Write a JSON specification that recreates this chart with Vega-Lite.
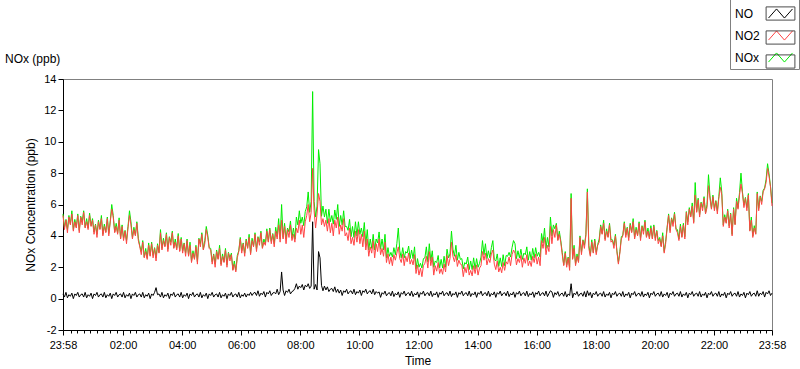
{
"$schema":"https://vega.github.io/schema/vega-lite/v6.json",
"width":709,"height":251,
"autosize":{"type":"none"},
"padding":{"left":63,"top":79,"right":28,"bottom":39},
"background":"white",
"config":{
 "font":"Liberation Sans",
 "view":{"stroke":"#808080","strokeWidth":1},
 "axis":{"labelFont":"Liberation Sans","labelFontSize":11,"labelColor":"#000","titleFont":"Liberation Sans","titleFontSize":12,"titleFontWeight":"normal","titleColor":"#000","domainColor":"#000","tickColor":"#000","grid":false}
},
"title":{"text":"NOx (ppb)","anchor":"start","frame":"group","dx":-58,"dy":78,"offset":0,"baseline":"alphabetic","fontSize":12,"fontWeight":"normal","font":"Liberation Sans","color":"#000"},
"data":{"values":[
{"m":0,"no":0.3,"no2":5.3,"nox":5.4},{"m":3,"no":0.1,"no2":4.4,"nox":4.55},{"m":6,"no":0.4,"no2":5.0,"nox":5.05},{"m":9,"no":0.05,"no2":4.2,"nox":4.4},{"m":12,"no":0.25,"no2":5.2,"nox":5.3},{"m":15,"no":0.15,"no2":4.7,"nox":4.75},{"m":18,"no":0.35,"no2":5.4,"nox":5.6},{"m":21,"no":0.0,"no2":4.3,"nox":4.4},{"m":24,"no":0.3,"no2":4.9,"nox":5.05},{"m":27,"no":0.2,"no2":4.5,"nox":4.55},
{"m":30,"no":0.4,"no2":5.3,"nox":5.4},{"m":33,"no":0.1,"no2":4.2,"nox":4.35},{"m":36,"no":0.25,"no2":5.2,"nox":5.25},{"m":39,"no":0.3,"no2":4.7,"nox":4.9},{"m":42,"no":0.1,"no2":5.5,"nox":5.6},{"m":45,"no":0.4,"no2":4.5,"nox":4.55},{"m":48,"no":0.05,"no2":4.9,"nox":5.1},{"m":51,"no":0.25,"no2":4.4,"nox":4.5},{"m":54,"no":0.15,"no2":5.3,"nox":5.45},{"m":57,"no":0.35,"no2":4.6,"nox":4.65},
{"m":60,"no":0.0,"no2":5.0,"nox":5.1},{"m":63,"no":0.3,"no2":4.1,"nox":4.25},{"m":66,"no":0.2,"no2":4.7,"nox":4.75},{"m":69,"no":0.4,"no2":3.9,"nox":4.1},{"m":72,"no":0.1,"no2":4.9,"nox":5.0},{"m":75,"no":0.25,"no2":4.4,"nox":4.45},{"m":78,"no":0.3,"no2":5.1,"nox":5.3},{"m":81,"no":0.1,"no2":4.0,"nox":4.1},{"m":84,"no":0.4,"no2":4.6,"nox":4.75},{"m":87,"no":0.05,"no2":4.2,"nox":4.25},
{"m":90,"no":0.25,"no2":5.1,"nox":5.2},{"m":93,"no":0.15,"no2":4.0,"nox":4.15},{"m":96,"no":0.35,"no2":4.9,"nox":4.95},{"m":99,"no":0.0,"no2":5.7,"nox":6.0},{"m":102,"no":0.3,"no2":5.2,"nox":5.3},{"m":105,"no":0.2,"no2":4.2,"nox":4.25},{"m":108,"no":0.4,"no2":4.6,"nox":4.8},{"m":111,"no":0.1,"no2":4.1,"nox":4.2},{"m":114,"no":0.25,"no2":5.0,"nox":5.15},{"m":117,"no":0.3,"no2":3.8,"nox":3.85},
{"m":120,"no":0.1,"no2":4.6,"nox":4.7},{"m":123,"no":0.4,"no2":3.7,"nox":3.85},{"m":126,"no":0.05,"no2":4.3,"nox":4.35},{"m":129,"no":0.25,"no2":3.5,"nox":3.7},{"m":132,"no":0.15,"no2":4.5,"nox":4.6},{"m":135,"no":0.35,"no2":5.3,"nox":5.6},{"m":138,"no":0.0,"no2":4.7,"nox":4.9},{"m":141,"no":0.3,"no2":3.8,"nox":3.9},{"m":144,"no":0.2,"no2":4.4,"nox":4.55},{"m":147,"no":0.4,"no2":4.0,"nox":4.05},
{"m":150,"no":0.1,"no2":4.8,"nox":4.9},{"m":153,"no":0.25,"no2":3.7,"nox":3.85},{"m":156,"no":0.3,"no2":3.3,"nox":3.35},{"m":159,"no":0.1,"no2":2.8,"nox":3.0},{"m":162,"no":0.4,"no2":3.6,"nox":3.7},{"m":165,"no":0.05,"no2":2.6,"nox":2.65},{"m":168,"no":0.25,"no2":3.0,"nox":3.2},{"m":171,"no":0.15,"no2":2.5,"nox":2.6},{"m":174,"no":0.35,"no2":3.4,"nox":3.55},{"m":177,"no":0.0,"no2":2.7,"nox":2.75},
{"m":180,"no":0.3,"no2":3.5,"nox":3.6},{"m":183,"no":0.2,"no2":2.6,"nox":2.75},{"m":186,"no":0.4,"no2":3.2,"nox":3.25},{"m":189,"no":0.7,"no2":2.4,"nox":2.6},{"m":192,"no":0.25,"no2":3.4,"nox":3.5},{"m":195,"no":0.3,"no2":2.9,"nox":2.95},{"m":198,"no":0.1,"no2":4.2,"nox":4.4},{"m":201,"no":0.4,"no2":3.1,"nox":3.2},{"m":204,"no":0.05,"no2":3.7,"nox":3.85},{"m":207,"no":0.25,"no2":3.3,"nox":3.35},
{"m":210,"no":0.15,"no2":4.1,"nox":4.2},{"m":213,"no":0.35,"no2":3.0,"nox":3.15},{"m":216,"no":0.0,"no2":3.9,"nox":3.95},{"m":219,"no":0.3,"no2":3.4,"nox":3.6},{"m":222,"no":0.2,"no2":4.2,"nox":4.3},{"m":225,"no":0.4,"no2":3.2,"nox":3.25},{"m":228,"no":0.1,"no2":3.6,"nox":3.8},{"m":231,"no":0.25,"no2":3.1,"nox":3.2},{"m":234,"no":0.3,"no2":4.0,"nox":4.15},{"m":237,"no":0.1,"no2":3.0,"nox":3.05},
{"m":240,"no":0.4,"no2":3.8,"nox":3.9},{"m":243,"no":0.05,"no2":2.9,"nox":3.05},{"m":246,"no":0.25,"no2":3.5,"nox":3.55},{"m":249,"no":0.15,"no2":2.7,"nox":2.9},{"m":252,"no":0.35,"no2":3.7,"nox":3.8},{"m":255,"no":0.0,"no2":2.7,"nox":2.75},{"m":258,"no":0.3,"no2":3.4,"nox":3.6},{"m":261,"no":0.2,"no2":2.3,"nox":2.4},{"m":264,"no":0.4,"no2":2.9,"nox":3.05},{"m":267,"no":0.1,"no2":2.5,"nox":2.55},
{"m":270,"no":0.25,"no2":3.3,"nox":3.4},{"m":273,"no":0.3,"no2":2.2,"nox":2.35},{"m":276,"no":0.1,"no2":3.8,"nox":3.85},{"m":279,"no":0.4,"no2":3.3,"nox":3.5},{"m":282,"no":0.05,"no2":4.1,"nox":4.2},{"m":285,"no":0.25,"no2":3.1,"nox":3.15},{"m":288,"no":0.15,"no2":3.5,"nox":3.7},{"m":291,"no":0.35,"no2":4.4,"nox":4.6},{"m":294,"no":0.0,"no2":3.9,"nox":4.05},{"m":297,"no":0.3,"no2":3.2,"nox":3.25},
{"m":300,"no":0.2,"no2":3.1,"nox":3.2},{"m":303,"no":0.4,"no2":2.2,"nox":2.35},{"m":306,"no":0.1,"no2":2.8,"nox":2.85},{"m":309,"no":0.25,"no2":2.0,"nox":2.2},{"m":312,"no":0.3,"no2":3.0,"nox":3.1},{"m":315,"no":0.1,"no2":2.5,"nox":2.55},{"m":318,"no":0.4,"no2":3.2,"nox":3.4},{"m":321,"no":0.05,"no2":2.1,"nox":2.2},{"m":324,"no":0.25,"no2":2.7,"nox":2.85},{"m":327,"no":0.15,"no2":2.3,"nox":2.35},
{"m":330,"no":0.35,"no2":3.1,"nox":3.2},{"m":333,"no":0.0,"no2":2.0,"nox":2.15},{"m":336,"no":0.3,"no2":2.9,"nox":2.95},{"m":339,"no":0.2,"no2":2.4,"nox":2.6},{"m":342,"no":0.4,"no2":2.8,"nox":2.9},{"m":345,"no":0.1,"no2":1.8,"nox":1.85},{"m":348,"no":0.25,"no2":2.2,"nox":2.4},{"m":351,"no":0.3,"no2":1.7,"nox":1.8},{"m":354,"no":0.1,"no2":2.6,"nox":2.75},{"m":357,"no":0.4,"no2":3.0,"nox":3.05},
{"m":360,"no":0.05,"no2":3.8,"nox":3.9},{"m":363,"no":0.25,"no2":2.9,"nox":3.05},{"m":366,"no":0.15,"no2":3.5,"nox":3.55},{"m":369,"no":0.35,"no2":2.7,"nox":2.9},{"m":372,"no":0.1,"no2":3.7,"nox":3.8},{"m":375,"no":0.3,"no2":3.2,"nox":3.25},{"m":378,"no":0.2,"no2":3.9,"nox":4.1},{"m":381,"no":0.4,"no2":2.8,"nox":2.9},{"m":384,"no":0.2,"no2":3.7,"nox":3.85},{"m":387,"no":0.35,"no2":3.3,"nox":3.35},
{"m":390,"no":0.4,"no2":4.1,"nox":4.2},{"m":393,"no":0.2,"no2":3.0,"nox":3.15},{"m":396,"no":0.5,"no2":3.9,"nox":3.95},{"m":399,"no":0.15,"no2":3.4,"nox":3.6},{"m":402,"no":0.35,"no2":4.2,"nox":4.3},{"m":405,"no":0.25,"no2":3.2,"nox":3.25},{"m":408,"no":0.45,"no2":3.6,"nox":3.8},{"m":411,"no":0.1,"no2":3.4,"nox":3.5},{"m":414,"no":0.4,"no2":4.3,"nox":4.45},{"m":417,"no":0.3,"no2":3.6,"nox":3.65},
{"m":420,"no":0.5,"no2":4.4,"nox":4.5},{"m":423,"no":0.2,"no2":3.5,"nox":3.65},{"m":426,"no":0.35,"no2":4.1,"nox":4.15},{"m":429,"no":0.4,"no2":3.3,"nox":3.5},{"m":432,"no":0.3,"no2":4.3,"nox":4.55},{"m":435,"no":0.6,"no2":3.8,"nox":3.95},{"m":438,"no":0.25,"no2":4.7,"nox":5.1},{"m":441,"no":0.45,"no2":3.6,"nox":3.8},{"m":444,"no":1.7,"no2":5.0,"nox":6.0},{"m":447,"no":0.55,"no2":3.8,"nox":3.9},
{"m":450,"no":0.2,"no2":4.6,"nox":4.8},{"m":453,"no":0.5,"no2":3.5,"nox":3.8},{"m":456,"no":0.4,"no2":4.4,"nox":4.5},{"m":459,"no":0.6,"no2":3.9,"nox":4.25},{"m":462,"no":0.3,"no2":4.7,"nox":4.95},{"m":465,"no":0.45,"no2":3.7,"nox":3.85},{"m":468,"no":0.5,"no2":4.1,"nox":4.5},{"m":471,"no":0.65,"no2":3.6,"nox":3.8},{"m":474,"no":0.95,"no2":4.5,"nox":5.2},{"m":477,"no":0.6,"no2":4.2,"nox":4.7},
{"m":480,"no":0.8,"no2":5.0,"nox":5.6},{"m":483,"no":0.7,"no2":4.1,"nox":4.8},{"m":486,"no":0.9,"no2":4.7,"nox":5.2},{"m":489,"no":0.55,"no2":3.9,"nox":4.65},{"m":492,"no":0.85,"no2":4.9,"nox":5.55},{"m":495,"no":0.75,"no2":5.3,"nox":5.85},{"m":498,"no":0.95,"no2":6.0,"nox":6.8},{"m":501,"no":0.65,"no2":4.9,"nox":5.5},{"m":504,"no":0.8,"no2":5.5,"nox":6.2},{"m":507,"no":4.9,"no2":8.3,"nox":13.2},
{"m":510,"no":0.6,"no2":5.6,"nox":6.2},{"m":513,"no":0.9,"no2":4.5,"nox":5.2},{"m":516,"no":0.55,"no2":5.4,"nox":5.9},{"m":519,"no":3.0,"no2":6.7,"nox":9.5},{"m":522,"no":2.6,"no2":6.2,"nox":8.6},{"m":525,"no":0.85,"no2":4.7,"nox":5.25},{"m":528,"no":0.5,"no2":5.1,"nox":5.9},{"m":531,"no":0.8,"no2":4.6,"nox":5.2},{"m":534,"no":0.55,"no2":5.0,"nox":5.7},{"m":537,"no":0.75,"no2":4.3,"nox":4.8},
{"m":540,"no":0.45,"no2":5.1,"nox":5.7},{"m":543,"no":0.6,"no2":4.2,"nox":4.9},{"m":546,"no":0.65,"no2":4.8,"nox":5.3},{"m":549,"no":0.45,"no2":4.0,"nox":4.75},{"m":552,"no":0.75,"no2":5.0,"nox":5.65},{"m":555,"no":0.4,"no2":4.5,"nox":5.05},{"m":558,"no":0.6,"no2":5.2,"nox":6.0},{"m":561,"no":0.35,"no2":4.1,"nox":4.6},{"m":564,"no":0.55,"no2":4.7,"nox":5.3},{"m":567,"no":0.2,"no2":4.3,"nox":4.7},
{"m":570,"no":0.5,"no2":5.1,"nox":5.6},{"m":573,"no":0.4,"no2":4.0,"nox":4.6},{"m":576,"no":0.6,"no2":4.2,"nox":4.6},{"m":579,"no":0.3,"no2":3.7,"nox":4.35},{"m":582,"no":0.45,"no2":4.5,"nox":5.05},{"m":585,"no":0.5,"no2":3.5,"nox":3.95},{"m":588,"no":0.3,"no2":3.9,"nox":4.6},{"m":591,"no":0.6,"no2":3.4,"nox":3.9},{"m":594,"no":0.25,"no2":4.3,"nox":4.9},{"m":597,"no":0.45,"no2":3.6,"nox":4.0},
{"m":600,"no":0.35,"no2":4.4,"nox":4.9},{"m":603,"no":0.55,"no2":3.5,"nox":4.1},{"m":606,"no":0.2,"no2":4.1,"nox":4.5},{"m":609,"no":0.5,"no2":3.3,"nox":3.95},{"m":612,"no":0.4,"no2":4.3,"nox":4.85},{"m":615,"no":0.6,"no2":3.1,"nox":3.45},{"m":618,"no":0.3,"no2":3.8,"nox":4.4},{"m":621,"no":0.45,"no2":2.7,"nox":3.1},{"m":624,"no":0.5,"no2":3.3,"nox":3.8},{"m":627,"no":0.3,"no2":2.9,"nox":3.2},
{"m":630,"no":0.6,"no2":3.7,"nox":4.1},{"m":633,"no":0.25,"no2":2.6,"nox":3.1},{"m":636,"no":0.45,"no2":3.5,"nox":3.8},{"m":639,"no":0.35,"no2":3.0,"nox":3.55},{"m":642,"no":0.43,"no2":3.8,"nox":4.25},{"m":645,"no":0.08,"no2":2.8,"nox":3.15},{"m":648,"no":0.38,"no2":3.2,"nox":3.8},{"m":651,"no":0.28,"no2":2.7,"nox":3.1},{"m":654,"no":0.48,"no2":3.6,"nox":4.1},{"m":657,"no":0.18,"no2":2.3,"nox":2.6},
{"m":660,"no":0.33,"no2":2.85,"nox":3.25},{"m":663,"no":0.38,"no2":2.2,"nox":2.7},{"m":666,"no":0.18,"no2":2.65,"nox":2.95},{"m":669,"no":0.48,"no2":2.1,"nox":2.65},{"m":672,"no":0.13,"no2":2.8,"nox":3.25},{"m":675,"no":0.33,"no2":2.45,"nox":2.8},{"m":678,"no":0.23,"no2":2.9,"nox":3.5},{"m":681,"no":0.43,"no2":3.3,"nox":4.5},{"m":684,"no":0.08,"no2":2.55,"nox":3.05},{"m":687,"no":0.38,"no2":2.3,"nox":2.6},
{"m":690,"no":0.28,"no2":2.85,"nox":3.25},{"m":693,"no":0.48,"no2":2.1,"nox":2.6},{"m":696,"no":0.18,"no2":2.7,"nox":3.0},{"m":699,"no":0.33,"no2":2.35,"nox":2.9},{"m":702,"no":0.38,"no2":2.9,"nox":3.35},{"m":705,"no":0.18,"no2":2.2,"nox":2.55},{"m":708,"no":0.48,"no2":2.5,"nox":3.1},{"m":711,"no":0.13,"no2":2.15,"nox":2.55},{"m":714,"no":0.33,"no2":2.8,"nox":3.3},{"m":717,"no":0.23,"no2":1.6,"nox":1.9},
{"m":720,"no":0.43,"no2":2.15,"nox":2.55},{"m":723,"no":0.08,"no2":1.5,"nox":2.0},{"m":726,"no":0.38,"no2":1.95,"nox":2.25},{"m":729,"no":0.28,"no2":1.4,"nox":1.95},{"m":732,"no":0.48,"no2":2.1,"nox":2.55},{"m":735,"no":0.18,"no2":2.25,"nox":2.6},{"m":738,"no":0.33,"no2":2.7,"nox":3.3},{"m":741,"no":0.38,"no2":1.95,"nox":2.35},{"m":744,"no":0.18,"no2":3.0,"nox":3.5},{"m":747,"no":0.48,"no2":2.1,"nox":2.4},
{"m":750,"no":0.13,"no2":2.65,"nox":3.05},{"m":753,"no":0.33,"no2":1.5,"nox":2.0},{"m":756,"no":0.23,"no2":2.1,"nox":2.4},{"m":759,"no":0.43,"no2":1.75,"nox":2.3},{"m":762,"no":0.08,"no2":2.3,"nox":2.75},{"m":765,"no":0.38,"no2":1.6,"nox":1.95},{"m":768,"no":0.28,"no2":1.9,"nox":2.5},{"m":771,"no":0.48,"no2":1.55,"nox":1.95},{"m":774,"no":0.18,"no2":2.2,"nox":2.7},{"m":777,"no":0.33,"no2":1.7,"nox":2.0},
{"m":780,"no":0.38,"no2":2.75,"nox":3.15},{"m":783,"no":0.18,"no2":2.1,"nox":2.6},{"m":786,"no":0.48,"no2":2.55,"nox":2.85},{"m":789,"no":0.13,"no2":3.6,"nox":4.3},{"m":792,"no":0.33,"no2":2.7,"nox":3.15},{"m":795,"no":0.23,"no2":2.35,"nox":2.7},{"m":798,"no":0.43,"no2":2.8,"nox":3.4},{"m":801,"no":0.08,"no2":2.05,"nox":2.45},{"m":804,"no":0.38,"no2":2.45,"nox":2.95},{"m":807,"no":0.28,"no2":2.2,"nox":2.5},
{"m":810,"no":0.48,"no2":2.15,"nox":2.55},{"m":813,"no":0.18,"no2":1.4,"nox":1.9},{"m":816,"no":0.33,"no2":2.0,"nox":2.3},{"m":819,"no":0.38,"no2":1.65,"nox":2.2},{"m":822,"no":0.18,"no2":2.2,"nox":2.65},{"m":825,"no":0.48,"no2":1.5,"nox":1.85},{"m":828,"no":0.13,"no2":1.8,"nox":2.4},{"m":831,"no":0.33,"no2":1.45,"nox":1.85},{"m":834,"no":0.23,"no2":2.1,"nox":2.6},{"m":837,"no":0.43,"no2":1.6,"nox":1.9},
{"m":840,"no":0.08,"no2":2.15,"nox":2.55},{"m":843,"no":0.38,"no2":1.5,"nox":2.0},{"m":846,"no":0.28,"no2":1.95,"nox":2.25},{"m":849,"no":0.48,"no2":2.1,"nox":2.65},{"m":852,"no":0.18,"no2":3.0,"nox":3.7},{"m":855,"no":0.33,"no2":2.45,"nox":2.8},{"m":858,"no":0.38,"no2":2.9,"nox":3.5},{"m":861,"no":0.18,"no2":2.15,"nox":2.55},{"m":864,"no":0.48,"no2":2.55,"nox":3.05},{"m":867,"no":0.13,"no2":2.3,"nox":2.6},
{"m":870,"no":0.33,"no2":2.85,"nox":3.25},{"m":873,"no":0.23,"no2":3.1,"nox":3.7},{"m":876,"no":0.43,"no2":2.2,"nox":2.5},{"m":879,"no":0.08,"no2":1.85,"nox":2.4},{"m":882,"no":0.38,"no2":2.4,"nox":2.85},{"m":885,"no":0.28,"no2":1.7,"nox":2.05},{"m":888,"no":0.48,"no2":2.0,"nox":2.6},{"m":891,"no":0.18,"no2":1.65,"nox":2.05},{"m":894,"no":0.33,"no2":2.3,"nox":2.8},{"m":897,"no":0.38,"no2":1.8,"nox":2.1},
{"m":900,"no":0.18,"no2":2.35,"nox":2.75},{"m":903,"no":0.48,"no2":2.2,"nox":2.7},{"m":906,"no":0.13,"no2":2.65,"nox":2.95},{"m":909,"no":0.33,"no2":2.1,"nox":2.65},{"m":912,"no":0.23,"no2":2.8,"nox":3.25},{"m":915,"no":0.43,"no2":3.1,"nox":3.7},{"m":918,"no":0.08,"no2":2.9,"nox":3.5},{"m":921,"no":0.38,"no2":2.15,"nox":2.55},{"m":924,"no":0.28,"no2":2.55,"nox":3.05},{"m":927,"no":0.48,"no2":2.3,"nox":2.6},
{"m":930,"no":0.18,"no2":2.75,"nox":3.15},{"m":933,"no":0.33,"no2":2.0,"nox":2.5},{"m":936,"no":0.38,"no2":2.6,"nox":2.9},{"m":939,"no":0.18,"no2":2.25,"nox":2.8},{"m":942,"no":0.48,"no2":2.8,"nox":3.3},{"m":945,"no":0.13,"no2":2.1,"nox":2.45},{"m":948,"no":0.33,"no2":2.4,"nox":3.0},{"m":951,"no":0.23,"no2":2.05,"nox":2.45},{"m":954,"no":0.43,"no2":2.7,"nox":3.2},{"m":957,"no":0.08,"no2":2.3,"nox":2.6},
{"m":960,"no":0.38,"no2":2.85,"nox":3.25},{"m":963,"no":0.28,"no2":2.2,"nox":2.7},{"m":966,"no":0.48,"no2":2.65,"nox":2.95},{"m":969,"no":0.18,"no2":2.1,"nox":2.65},{"m":972,"no":0.33,"no2":3.7,"nox":4.15},{"m":975,"no":0.38,"no2":3.2,"nox":3.55},{"m":978,"no":0.18,"no2":3.9,"nox":4.5},{"m":981,"no":0.48,"no2":2.8,"nox":3.2},{"m":984,"no":0.13,"no2":3.4,"nox":3.9},{"m":987,"no":0.33,"no2":3.0,"nox":3.3},
{"m":990,"no":0.5,"no2":4.6,"nox":5.2},{"m":993,"no":0.43,"no2":3.5,"nox":4.0},{"m":996,"no":0.08,"no2":4.4,"nox":4.7},{"m":999,"no":0.38,"no2":3.9,"nox":4.45},{"m":1002,"no":0.25,"no2":4.7,"nox":4.8},{"m":1005,"no":0.45,"no2":3.7,"nox":3.75},{"m":1008,"no":0.15,"no2":4.1,"nox":4.3},{"m":1011,"no":0.3,"no2":3.6,"nox":3.7},{"m":1014,"no":0.35,"no2":2.8,"nox":2.95},{"m":1017,"no":0.15,"no2":2.1,"nox":2.15},
{"m":1020,"no":0.45,"no2":2.9,"nox":3.0},{"m":1023,"no":0.1,"no2":2.0,"nox":2.15},{"m":1026,"no":0.3,"no2":2.6,"nox":2.65},{"m":1029,"no":0.2,"no2":1.8,"nox":2.0},{"m":1032,"no":0.95,"no2":6.4,"nox":6.7},{"m":1035,"no":0.05,"no2":2.5,"nox":2.55},{"m":1038,"no":0.35,"no2":3.2,"nox":3.4},{"m":1041,"no":0.25,"no2":2.1,"nox":2.2},{"m":1044,"no":0.45,"no2":2.7,"nox":2.85},{"m":1047,"no":0.15,"no2":2.3,"nox":2.35},
{"m":1050,"no":0.3,"no2":3.9,"nox":4.0},{"m":1053,"no":0.35,"no2":2.8,"nox":2.95},{"m":1056,"no":0.15,"no2":3.7,"nox":3.75},{"m":1059,"no":0.45,"no2":3.2,"nox":3.4},{"m":1062,"no":0.1,"no2":4.0,"nox":4.1},{"m":1065,"no":0.5,"no2":6.8,"nox":7.0},{"m":1068,"no":0.2,"no2":3.2,"nox":3.4},{"m":1071,"no":0.4,"no2":2.7,"nox":2.8},{"m":1074,"no":0.05,"no2":3.6,"nox":3.75},{"m":1077,"no":0.35,"no2":2.9,"nox":2.95},
{"m":1080,"no":0.25,"no2":3.7,"nox":3.8},{"m":1083,"no":0.45,"no2":2.8,"nox":2.95},{"m":1086,"no":0.15,"no2":3.4,"nox":3.45},{"m":1089,"no":0.3,"no2":3.6,"nox":3.8},{"m":1092,"no":0.35,"no2":4.6,"nox":4.7},{"m":1095,"no":0.15,"no2":4.1,"nox":4.15},{"m":1098,"no":0.45,"no2":4.8,"nox":5.0},{"m":1101,"no":0.1,"no2":3.7,"nox":3.8},{"m":1104,"no":0.3,"no2":4.3,"nox":4.45},{"m":1107,"no":0.2,"no2":3.9,"nox":3.95},
{"m":1110,"no":0.4,"no2":4.7,"nox":4.8},{"m":1113,"no":0.05,"no2":3.6,"nox":3.75},{"m":1116,"no":0.35,"no2":3.7,"nox":3.75},{"m":1119,"no":0.25,"no2":3.2,"nox":3.4},{"m":1122,"no":0.45,"no2":4.0,"nox":4.1},{"m":1125,"no":0.15,"no2":3.0,"nox":3.05},{"m":1128,"no":0.3,"no2":2.2,"nox":2.3},{"m":1131,"no":0.35,"no2":2.9,"nox":3.0},{"m":1134,"no":0.15,"no2":3.8,"nox":3.95},{"m":1137,"no":0.45,"no2":4.0,"nox":4.05},
{"m":1140,"no":0.1,"no2":4.8,"nox":4.9},{"m":1143,"no":0.3,"no2":3.9,"nox":4.05},{"m":1146,"no":0.2,"no2":4.5,"nox":4.55},{"m":1149,"no":0.4,"no2":3.7,"nox":3.9},{"m":1152,"no":0.05,"no2":4.7,"nox":4.8},{"m":1155,"no":0.35,"no2":4.2,"nox":4.25},{"m":1158,"no":0.25,"no2":4.9,"nox":5.1},{"m":1161,"no":0.45,"no2":3.8,"nox":3.9},{"m":1164,"no":0.15,"no2":4.4,"nox":4.55},{"m":1167,"no":0.3,"no2":4.0,"nox":4.05},
{"m":1170,"no":0.35,"no2":4.8,"nox":4.9},{"m":1173,"no":0.15,"no2":3.7,"nox":3.85},{"m":1176,"no":0.45,"no2":4.6,"nox":4.65},{"m":1179,"no":0.1,"no2":4.1,"nox":4.3},{"m":1182,"no":0.3,"no2":4.9,"nox":5.0},{"m":1185,"no":0.2,"no2":3.9,"nox":3.95},{"m":1188,"no":0.4,"no2":4.3,"nox":4.5},{"m":1191,"no":0.05,"no2":3.8,"nox":3.9},{"m":1194,"no":0.35,"no2":4.5,"nox":4.65},{"m":1197,"no":0.25,"no2":3.8,"nox":3.85},
{"m":1200,"no":0.45,"no2":4.6,"nox":4.7},{"m":1203,"no":0.15,"no2":3.7,"nox":3.85},{"m":1206,"no":0.3,"no2":4.3,"nox":4.35},{"m":1209,"no":0.35,"no2":3.5,"nox":3.7},{"m":1212,"no":0.15,"no2":3.8,"nox":3.9},{"m":1215,"no":0.45,"no2":3.3,"nox":3.35},{"m":1218,"no":0.1,"no2":4.0,"nox":4.2},{"m":1221,"no":0.3,"no2":2.9,"nox":3.0},{"m":1224,"no":0.2,"no2":3.5,"nox":3.65},{"m":1227,"no":0.4,"no2":4.5,"nox":4.55},
{"m":1230,"no":0.05,"no2":5.3,"nox":5.4},{"m":1233,"no":0.35,"no2":4.2,"nox":4.35},{"m":1236,"no":0.25,"no2":5.1,"nox":5.15},{"m":1239,"no":0.45,"no2":4.6,"nox":4.8},{"m":1242,"no":0.15,"no2":5.4,"nox":5.5},{"m":1245,"no":0.3,"no2":4.4,"nox":4.45},{"m":1248,"no":0.35,"no2":4.2,"nox":4.4},{"m":1251,"no":0.15,"no2":3.7,"nox":3.8},{"m":1254,"no":0.45,"no2":4.6,"nox":4.75},{"m":1257,"no":0.1,"no2":3.9,"nox":3.95},
{"m":1260,"no":0.3,"no2":4.7,"nox":4.8},{"m":1263,"no":0.2,"no2":3.8,"nox":3.95},{"m":1266,"no":0.4,"no2":5.5,"nox":5.55},{"m":1269,"no":0.05,"no2":4.7,"nox":4.9},{"m":1272,"no":0.35,"no2":5.7,"nox":5.8},{"m":1275,"no":0.25,"no2":5.2,"nox":5.25},{"m":1278,"no":0.45,"no2":5.9,"nox":6.1},{"m":1281,"no":0.15,"no2":4.8,"nox":4.9},{"m":1284,"no":0.3,"no2":6.6,"nox":7.4},{"m":1287,"no":0.35,"no2":5.5,"nox":5.55},
{"m":1290,"no":0.15,"no2":6.3,"nox":6.4},{"m":1293,"no":0.45,"no2":5.2,"nox":5.35},{"m":1296,"no":0.1,"no2":6.1,"nox":6.15},{"m":1299,"no":0.3,"no2":5.6,"nox":5.8},{"m":1302,"no":0.2,"no2":6.4,"nox":6.5},{"m":1305,"no":0.4,"no2":5.4,"nox":5.45},{"m":1308,"no":0.05,"no2":5.8,"nox":6.0},{"m":1311,"no":0.35,"no2":7.2,"nox":7.9},{"m":1314,"no":0.25,"no2":6.4,"nox":6.55},{"m":1317,"no":0.45,"no2":5.7,"nox":5.75},
{"m":1320,"no":0.15,"no2":6.5,"nox":6.6},{"m":1323,"no":0.3,"no2":5.6,"nox":5.75},{"m":1326,"no":0.35,"no2":6.2,"nox":6.25},{"m":1329,"no":0.15,"no2":5.4,"nox":5.6},{"m":1332,"no":0.45,"no2":6.4,"nox":6.5},{"m":1335,"no":0.1,"no2":7.1,"nox":7.7},{"m":1338,"no":0.3,"no2":6.6,"nox":6.8},{"m":1341,"no":0.2,"no2":4.6,"nox":4.7},{"m":1344,"no":0.4,"no2":5.2,"nox":5.35},{"m":1347,"no":0.05,"no2":4.8,"nox":4.85},
{"m":1350,"no":0.35,"no2":5.6,"nox":5.7},{"m":1353,"no":0.25,"no2":4.5,"nox":4.65},{"m":1356,"no":0.45,"no2":5.4,"nox":5.45},{"m":1359,"no":0.15,"no2":4.0,"nox":4.1},{"m":1362,"no":0.3,"no2":5.7,"nox":5.8},{"m":1365,"no":0.35,"no2":4.7,"nox":4.75},{"m":1368,"no":0.15,"no2":6.2,"nox":6.4},{"m":1371,"no":0.45,"no2":5.7,"nox":5.8},{"m":1374,"no":0.1,"no2":6.6,"nox":6.75},{"m":1377,"no":0.3,"no2":7.3,"nox":8.0},
{"m":1380,"no":0.2,"no2":6.7,"nox":6.8},{"m":1383,"no":0.4,"no2":5.8,"nox":5.95},{"m":1386,"no":0.05,"no2":6.4,"nox":6.45},{"m":1389,"no":0.35,"no2":5.6,"nox":5.8},{"m":1392,"no":0.25,"no2":6.6,"nox":6.7},{"m":1395,"no":0.45,"no2":4.3,"nox":4.35},{"m":1398,"no":0.15,"no2":5.0,"nox":5.2},{"m":1401,"no":0.3,"no2":3.9,"nox":4.0},{"m":1404,"no":0.35,"no2":4.5,"nox":4.65},{"m":1407,"no":0.15,"no2":4.1,"nox":4.15},
{"m":1410,"no":0.5,"no2":6.7,"nox":6.8},{"m":1413,"no":0.15,"no2":5.6,"nox":5.75},{"m":1416,"no":0.35,"no2":6.5,"nox":6.55},{"m":1419,"no":0.25,"no2":6.0,"nox":6.2},{"m":1422,"no":0.45,"no2":6.8,"nox":6.9},{"m":1425,"no":0.1,"no2":7.0,"nox":7.05},{"m":1428,"no":0.4,"no2":7.4,"nox":7.6},{"m":1431,"no":0.3,"no2":8.3,"nox":8.6},{"m":1434,"no":0.5,"no2":7.8,"nox":7.95},{"m":1437,"no":0.2,"no2":7.1,"nox":7.15},
{"m":1440,"no":0.35,"no2":5.9,"nox":6.1}
]},
"encoding":{
 "x":{"field":"m","type":"quantitative","scale":{"domain":[0,1440],"nice":false,"zero":false},
  "axis":{"title":"Time","titlePadding":5,"labelPadding":4,"labelFlush":false,"labelOverlap":false,"labelBound":false,
   "values":[0,15.3,28.7,42,55.3,68.7,82,95.3,108.7,122,135.3,148.7,162,175.3,188.7,202,215.3,228.7,242,255.3,268.7,282,295.3,308.7,322,335.3,348.7,362,375.3,388.7,402,415.3,428.7,442,455.3,468.7,482,495.3,508.7,522,535.3,548.7,562,575.3,588.7,602,615.3,628.7,642,655.3,668.7,682,695.3,708.7,722,735.3,748.7,762,775.3,788.7,802,815.3,828.7,842,855.3,868.7,882,895.3,908.7,922,935.3,948.7,962,975.3,988.7,1002,1015.3,1028.7,1042,1055.3,1068.7,1082,1095.3,1108.7,1122,1135.3,1148.7,1162,1175.3,1188.7,1202,1215.3,1228.7,1242,1255.3,1268.7,1282,1295.3,1308.7,1322,1335.3,1348.7,1362,1375.3,1388.7,1402,1415.3,1428.7,1440],
   "labelExpr":"datum.value == 0 || datum.value == 1440 ? '23:58' : (datum.value % 120 == 2 ? ((datum.value - 2) / 60 < 10 ? '0' : '') + ((datum.value - 2) / 60) + ':00' : '')",
   "tickSize":{"condition":{"test":"datum.value == 0 || datum.value == 1440 || datum.value % 120 == 2","value":5},"value":3}}},
 "y":{"field":"v","type":"quantitative","scale":{"domain":[-2,14],"nice":false,"zero":false},
  "axis":{"title":"NOx Concentration (ppb)","titlePadding":6,"values":[-2,0,2,4,6,8,10,12,14],"labelExpr":"'' + datum.value","tickSize":5,"labelPadding":2}}
},
"layer":[
 {"transform":[{"fold":["no","no2","nox"],"as":["k","v"]},{"filter":"datum.k == 'nox'"}],
  "mark":{"type":"line","strokeWidth":1},
  "encoding":{"color":{"field":"k","type":"nominal","scale":{"domain":["no","no2","nox"],"range":["#000000","#ff4444","#00ee00"]},
   "legend":{"orient":"none","legendX":667,"legendY":-82,"title":"\u00a0","titleOrient":"left","titlePadding":34,"titleFontSize":11,"padding":4,"rowPadding":2,"strokeColor":"#808080","symbolSize":576,"symbolStrokeWidth":1,"symbolType":"M-1,0.38L-0.33,-0.38L0.33,0.38L1,-0.38","labelFont":"Liberation Sans","labelFontSize":12,"labelColor":"#000","labelAlign":"left","labelOffset":-58,
    "labelExpr":"datum.label == 'no' ? 'NO' : (datum.label == 'no2' ? 'NO2' : 'NOx')"}}}},
 {"transform":[{"fold":["no","no2","nox"],"as":["k","v"]},{"filter":"datum.k == 'no2'"}],
  "mark":{"type":"line","strokeWidth":1},
  "encoding":{"color":{"field":"k","type":"nominal"}}},
 {"transform":[{"fold":["no","no2","nox"],"as":["k","v"]},{"filter":"datum.k == 'no'"}],
  "mark":{"type":"line","strokeWidth":1},
  "encoding":{"color":{"field":"k","type":"nominal"}}},
 {"data":{"values":[]},
  "mark":{"type":"point","filled":false,"color":"#000"},
  "encoding":{"shape":{"field":"k2","type":"nominal","scale":{"domain":["NO","NO2","NOx"],"range":["M-1.2,-0.55H1.2V0.55H-1.2Z","M-1.2,-0.55H1.2V0.55H-1.2Z","M-1.2,-0.55H1.2V0.55H-1.2Z"]},
   "legend":{"orient":"none","legendX":667,"legendY":-82,"title":"\u00a0","titleOrient":"left","titlePadding":34,"titleFontSize":11,"padding":4,"rowPadding":2,"symbolSize":576,"symbolStrokeWidth":1,"symbolStrokeColor":"#000","symbolFillColor":"transparent","labelFont":"Liberation Sans","labelFontSize":12,"labelExpr":"''","labelAlign":"left","labelOffset":-58}}}}
]
}
